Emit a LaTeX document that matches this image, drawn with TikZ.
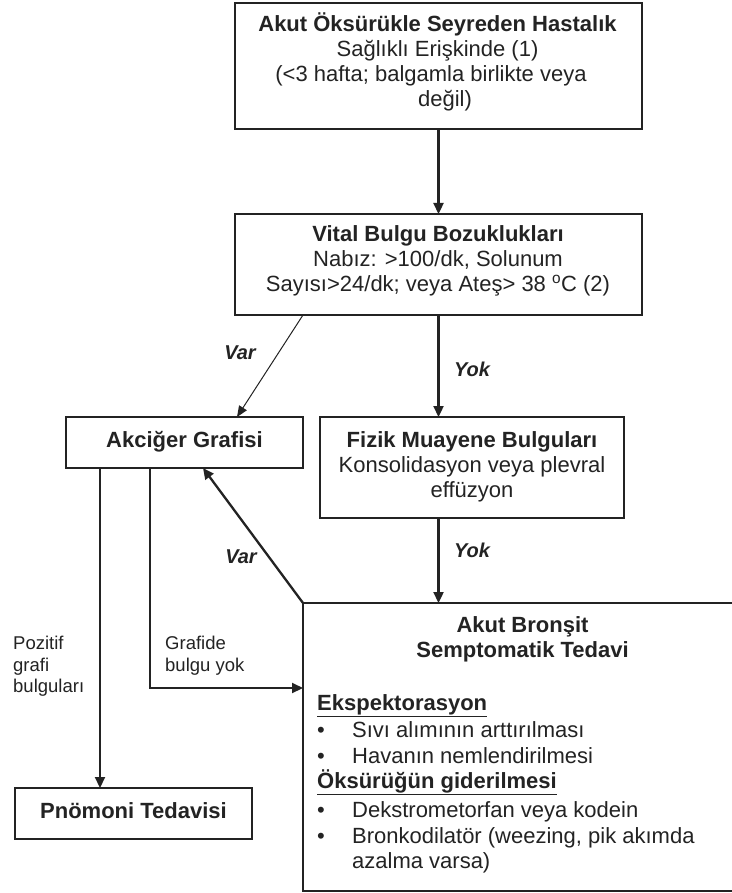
\documentclass[tikz,border=0pt]{standalone}
\usepackage{fontspec}
\setmainfont{Liberation Sans}
\usetikzlibrary{arrows.meta,calc}
\definecolor{linec}{HTML}{232323}
\begin{document}
\begin{tikzpicture}[x=1pt,y=-1pt,
  box/.style={draw=linec,line width=1.3pt,inner sep=0pt,outer sep=0pt,rectangle},
  txt/.style={inner sep=0pt,anchor=base,text=linec,font=\fontsize{22}{25}\selectfont},
  btxt/.style={txt,font=\fontsize{22}{25}\selectfont\bfseries},
  ltxt/.style={inner sep=0pt,anchor=base west,text=linec,font=\fontsize{22}{25}\selectfont},
  bltxt/.style={ltxt,font=\fontsize{22}{25}\selectfont\bfseries},
  lbl/.style={inner sep=0pt,anchor=base west,text=linec,font=\fontsize{18.5}{22}\selectfont},
  yv/.style={inner sep=0pt,anchor=base,text=linec,font=\fontsize{20}{22}\selectfont\bfseries\itshape},
  bigarrow/.style={draw=linec,line width=2.3pt,-{Triangle[length=11pt,width=10pt]}},
  thinarrow/.style={draw=linec,line width=1pt,-{Triangle[length=11pt,width=9pt]}},
  plainline/.style={draw=linec,line width=2.1pt},
]
\fill[white] (0,0) rectangle (731,893);
\useasboundingbox (0,0) rectangle (731,893);

% boxes
\node[box,minimum width=407pt,minimum height=126pt] (top) at (438.5,66) {};
\node[box,minimum width=407pt,minimum height=101pt] (vital) at (438.5,264.5) {};
\node[box,minimum width=237pt,minimum height=51pt] (akc) at (184.5,442.5) {};
\node[box,minimum width=304pt,minimum height=101pt] (fiz) at (472,467.5) {};
\node[box,minimum width=237pt,minimum height=51pt] (pno) at (133.5,813.5) {};
\node[box,minimum width=439pt,minimum height=288pt] (bron) at (522.5,747) {};

% texts of top box
\node[btxt] (t1) at (437.5,32) {Akut Öksürükle Seyreden Hastalık};
\node[txt] (t2) at (437.5,57) {Sağlıklı Erişkinde (1)};
\node[txt] (t3) at (431,82) {(<3 hafta; balgamla birlikte veya};
\node[txt] (t4) at (445,107) {değil)};

% vital box
\node[btxt] (v1) at (438,241) {Vital Bulgu Bozuklukları};
\node[txt] (v2) at (438,266) {Nabız: >100/dk, Solunum};
\node[txt] (v3) at (438,291) {Sayısı>24/dk; veya Ateş> 38 \textsuperscript{o}C (2)};

% akciger
\node[btxt] (a1) at (184.5,447) {Akciğer Grafisi};

% fizik
\node[btxt] (f1) at (472,447) {Fizik Muayene Bulguları};
\node[txt] (f2) at (472,472) {Konsolidasyon veya plevral};
\node[txt] (f3) at (472,497) {effüzyon};

% pnomoni
\node[btxt] (p1) at (133.5,818) {Pnömoni Tedavisi};

% bronsit
\node[btxt] (b1) at (522.5,632) {Akut Bronşit};
\node[btxt] (b2) at (522.5,657) {Semptomatik Tedavi};
\node[bltxt] (h1) at (317,710) {\underline{Ekspektorasyon}};
\node[txt] (d1) at (321,737) {\textbullet};
\node[ltxt] (i1) at (352,737) {Sıvı alımının arttırılması};
\node[txt] (d2) at (321,763) {\textbullet};
\node[ltxt] (i2) at (352,763) {Havanın nemlendirilmesi};
\node[bltxt] (h2) at (317,788) {\underline{Öksürüğün giderilmesi}};
\node[txt] (d3) at (321,817) {\textbullet};
\node[ltxt] (i3) at (352,817) {Dekstrometorfan veya kodein};
\node[txt] (d4) at (321,843) {\textbullet};
\node[ltxt] (i4) at (352,843) {Bronkodilatör (weezing, pik akımda};
\node[ltxt] (i5) at (352,868) {azalma varsa)};

% connectors
\draw[bigarrow] (top.south) -- (vital.north);
\draw[thinarrow] ($(vital.south west)+(68,0)$) -- ($(akc.north east)+(-66,0)$);
\draw[bigarrow] (vital.south) -- (vital.south |- fiz.north);
\draw[bigarrow] (vital.south |- fiz.south) -- (vital.south |- bron.north);
\draw[bigarrow] (bron.north west) -- ($(akc.south)+(18.5,0)$);
\draw[plainline,-{Triangle[length=11pt,width=10pt]}] ($(akc.south west)+(84,0)$) |- ($(bron.north west)+(0,85)$);
\draw[plainline,-{Triangle[length=11pt,width=10pt]}] ($(akc.south west)+(34,0)$) -- ($(pno.north west)+(85,0)$);

% labels
\node[yv] (var1) at (240,359) {Var};
\node[yv] (yok1) at (472,376) {Yok};
\node[yv] (var2) at (241,563) {Var};
\node[yv] (yok2) at (472,557) {Yok};
\node[lbl] (l1) at (13,649) {Pozitif};
\node[lbl] (l2) at (13,671) {grafi};
\node[lbl] (l3) at (13,692) {bulguları};
\node[lbl] (g1) at (165,649) {Grafide};
\node[lbl] (g2) at (165,671) {bulgu yok};
\end{tikzpicture}
\end{document}
